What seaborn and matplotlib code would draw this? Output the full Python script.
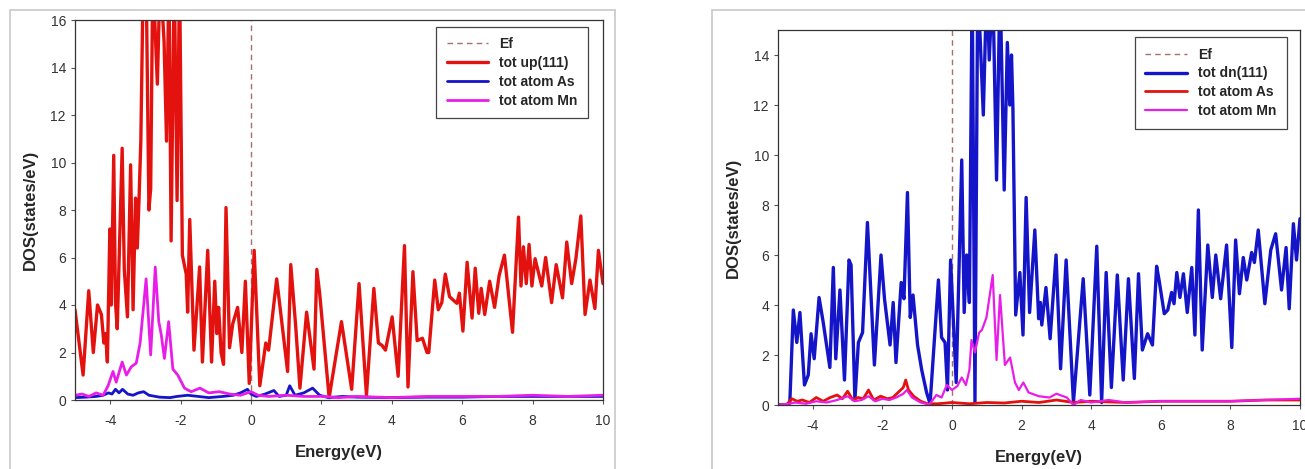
import matplotlib
matplotlib.use("Agg")
import matplotlib.pyplot as plt
import seaborn as sns
import pandas as pd
from matplotlib.patches import Rectangle

# spin up: total DOS (red)
up_tot_e = [-5.0, -4.77, -4.61, -4.48, -4.36, -4.25, -4.18, -4.13, -4.08, -4.01, -3.97, -3.90, -3.85, -3.80,
            -3.66, -3.60, -3.51, -3.42, -3.35, -3.28, -3.23, -3.18, -3.13, -3.06, -2.98, -2.90, -2.85, -2.79,
            -2.66, -2.58, -2.47, -2.40, -2.33, -2.27, -2.18, -2.10, -2.03, -1.95, -1.84, -1.80, -1.74, -1.62,
            -1.46, -1.38, -1.23, -1.12, -1.03, -0.97, -0.92, -0.85, -0.78, -0.71, -0.61, -0.52, -0.38, -0.26,
            -0.16, -0.05, 0.09, 0.25, 0.42, 0.50, 0.73, 1.04, 1.13, 1.27, 1.39, 1.58, 1.79, 1.87, 1.95, 2.22,
            2.57, 2.86, 3.07, 3.28, 3.49, 3.62, 3.72, 3.82, 4.01, 4.18, 4.36, 4.46, 4.60, 4.72, 4.87, 5.0,
            5.05, 5.22, 5.32, 5.42, 5.52, 5.64, 5.75, 5.85, 5.92, 6.02, 6.14, 6.28, 6.37, 6.47, 6.54, 6.64,
            6.78, 6.92, 7.05, 7.20, 7.43, 7.60, 7.67, 7.74, 7.82, 7.90, 7.98, 8.07, 8.26, 8.37, 8.54, 8.67,
            8.85, 8.97, 9.11, 9.23, 9.37, 9.49, 9.63, 9.77, 9.87, 10.0]
up_tot_d = [3.8, 1.05, 4.6, 2.0, 4.0, 3.6, 2.4, 2.8, 1.6, 7.2, 4.0, 10.3, 4.1, 3.0,
            10.6, 5.5, 3.5, 9.9, 3.8, 8.5, 6.4, 8.5, 10.9, 18, 18, 8.0, 8.9, 18,
            13.3, 18, 15.1, 10.9, 18, 6.7, 18, 8.4, 18, 6.1, 5.3, 3.7, 7.6, 2.1,
            5.6, 1.6, 6.3, 1.6, 5.0, 2.8, 3.9, 2.0, 1.5, 8.1, 2.2, 3.2, 3.9, 2.0,
            5.0, 0.7, 6.3, 0.6, 2.4, 2.1, 5.1, 1.2, 5.7, 3.1, 0.5, 3.7, 1.3, 5.5, 4.5, 0.1,
            3.3, 0.45, 4.9, 0.2, 4.7, 2.4, 2.3, 2.1, 3.5, 1.0, 6.5, 0.55, 5.4, 2.5, 2.6, 2.0,
            2.0, 5.05, 3.8, 4.1, 5.3, 4.35, 4.2, 4.07, 4.5, 2.9, 5.8, 3.45, 5.55, 3.65, 4.7, 3.6,
            5.0, 3.9, 5.25, 6.1, 2.85, 7.7, 4.8, 6.45, 4.9, 6.55, 4.8, 5.95, 4.8, 6.0, 4.1, 5.7,
            4.3, 6.65, 4.9, 5.95, 7.75, 3.6, 5.05, 3.85, 6.3, 4.9]

# spin up: As atom (blue)
up_as_e = [-5.0, -4.7, -4.4, -4.2, -4.05, -3.95, -3.85, -3.75, -3.65, -3.5, -3.35, -3.2, -3.05, -2.9,
           -2.6, -2.3, -2.1, -1.8, -1.5, -1.2, -0.8, -0.5, -0.3, -0.1, 0.0, 0.15, 0.4, 0.65, 0.8, 1.0,
           1.1, 1.25, 1.5, 1.75, 1.95, 2.2, 2.6, 3.0, 4.0, 5.0, 6.0, 7.0, 8.0, 9.0, 10.0]
up_as_d = [0.1, 0.12, 0.15, 0.2, 0.3, 0.25, 0.45, 0.3, 0.45, 0.25, 0.2, 0.3, 0.35, 0.2,
           0.12, 0.1, 0.15, 0.2, 0.15, 0.1, 0.15, 0.2, 0.3, 0.45, 0.25, 0.15, 0.25, 0.4, 0.15, 0.2,
           0.6, 0.2, 0.3, 0.5, 0.2, 0.1, 0.15, 0.12, 0.1, 0.12, 0.12, 0.15, 0.15, 0.15, 0.15]

# spin up: Mn atom (magenta)
up_mn_e = [-5.0, -4.8, -4.6, -4.4, -4.2, -4.06, -3.92, -3.83, -3.66, -3.54, -3.40, -3.26, -3.15, -2.98,
           -2.85, -2.72, -2.62, -2.55, -2.46, -2.34, -2.22, -2.08, -1.89, -1.7, -1.45, -1.2, -0.9, -0.6,
           -0.3, 0.0, 0.2, 0.5, 1.0, 1.5, 2.0, 2.5, 3.0, 4.0, 5.0, 6.0, 7.0, 8.0, 9.0, 10.0]
up_mn_d = [0.2, 0.25, 0.15, 0.3, 0.2, 0.6, 1.2, 0.75, 1.6, 1.05, 1.4, 1.55, 2.4, 5.1,
           1.9, 5.6, 3.3, 2.75, 1.75, 3.3, 1.3, 1.05, 0.5, 0.35, 0.5, 0.3, 0.35, 0.25,
           0.2, 0.35, 0.2, 0.15, 0.2, 0.15, 0.15, 0.1, 0.15, 0.1, 0.15, 0.15, 0.15, 0.2, 0.15, 0.2]

# spin down: total DOS (blue)
dn_tot_e = [-5.0, -4.70, -4.66, -4.56, -4.46, -4.37, -4.24, -4.13, -4.05, -3.96, -3.82, -3.70, -3.51, -3.41,
            -3.34, -3.22, -3.09, -2.96, -2.90, -2.79, -2.69, -2.57, -2.43, -2.23, -2.04, -1.94, -1.78, -1.69,
            -1.61, -1.46, -1.38, -1.28, -1.20, -1.12, -0.99, -0.87, -0.73, -0.63, -0.39, -0.30, -0.20, -0.13,
            -0.04, 0.12, 0.28, 0.35, 0.42, 0.50, 0.58, 0.66, 0.74, 0.90, 1.0, 1.07, 1.17, 1.28, 1.38, 1.50,
            1.59, 1.66, 1.71, 1.75, 1.83, 1.95, 2.04, 2.13, 2.23, 2.38, 2.49, 2.54, 2.58, 2.70, 2.82, 2.99,
            3.12, 3.28, 3.49, 3.77, 3.96, 4.16, 4.30, 4.43, 4.58, 4.75, 4.92, 5.07, 5.24, 5.36, 5.47, 5.62,
            5.76, 5.88, 5.95, 6.10, 6.20, 6.31, 6.38, 6.46, 6.55, 6.65, 6.76, 6.89, 6.98, 7.08, 7.19, 7.35,
            7.48, 7.58, 7.72, 7.89, 8.04, 8.15, 8.26, 8.37, 8.47, 8.61, 8.69, 8.80, 8.99, 9.16, 9.30, 9.47,
            9.60, 9.69, 9.81, 9.90, 10.0]
dn_tot_d = [0.0, 0.0, 0.1, 3.8, 2.5, 3.7, 0.8, 1.2, 2.85, 1.85, 4.3, 3.3, 1.5, 5.5,
            1.85, 4.6, 1.0, 5.8, 5.6, 0.2, 2.5, 2.9, 7.3, 1.6, 6.0, 4.25, 2.4, 4.1,
            1.7, 4.9, 4.25, 8.5, 3.5, 4.4, 2.4, 1.4, 0.5, 0.05, 5.0, 2.7, 2.5, 0.6,
            5.8, 0.9, 9.8, 3.7, 6.0, 4.1, 17, 0.1, 17, 11.6, 17, 13.8, 17, 9.0, 17, 8.6,
            14.5, 12.0, 14.0, 11.9, 3.6, 5.3, 2.8, 8.3, 3.7, 7.0, 3.45, 4.1, 3.2, 4.7, 2.65, 6.0,
            1.45, 5.8, 0.1, 5.05, 0.4, 6.35, 0.1, 5.3, 0.7, 5.2, 1.0, 5.05, 1.06, 5.25, 2.2, 2.85,
            2.4, 5.55, 5.0, 3.65, 3.8, 4.5, 4.05, 5.3, 4.3, 5.25, 3.7, 5.5, 2.8, 7.8, 2.2, 6.4,
            4.3, 6.0, 4.25, 6.4, 2.3, 6.6, 4.45, 5.9, 5.0, 6.1, 5.7, 7.0, 4.05, 6.2, 6.85, 4.6,
            6.3, 3.85, 7.25, 5.8, 7.45]

# spin down: As atom (red)
dn_as_e = [-5.0, -4.75, -4.6, -4.45, -4.3, -4.1, -3.9, -3.7, -3.5, -3.3, -3.15, -3.0, -2.85, -2.7,
           -2.55, -2.4, -2.25, -2.05, -1.85, -1.7, -1.55, -1.4, -1.33, -1.25, -1.1, -0.9, -0.7, -0.4,
           0.0, 0.5, 1.0, 1.5, 2.0, 2.5, 3.0, 3.5, 4.0, 5.0, 6.0, 7.0, 8.0, 9.0, 10.0]
dn_as_d = [0.0, 0.02, 0.25, 0.15, 0.2, 0.1, 0.3, 0.15, 0.3, 0.4, 0.25, 0.55, 0.2, 0.3,
           0.25, 0.6, 0.2, 0.35, 0.25, 0.3, 0.5, 0.7, 1.0, 0.6, 0.35, 0.15, 0.05, 0.05,
           0.1, 0.05, 0.1, 0.08, 0.15, 0.1, 0.2, 0.1, 0.15, 0.1, 0.15, 0.15, 0.15, 0.2, 0.2]

# spin down: Mn atom (magenta)
dn_mn_e = [-5.0, -4.7, -4.5, -4.2, -3.9, -3.6, -3.3, -3.0, -2.8, -2.6, -2.4, -2.2, -2.0, -1.8,
           -1.6, -1.4, -1.3, -1.15, -0.9, -0.65, -0.45, -0.3, -0.15, 0.0, 0.15, 0.28, 0.4, 0.5,
           0.56, 0.66, 0.78, 0.86, 0.99, 1.17, 1.28, 1.38, 1.52, 1.67, 1.81, 1.92, 2.05, 2.2, 2.5,
           2.8, 3.0, 3.3, 3.49, 3.7, 4.0, 4.5, 5.0, 6.0, 7.0, 8.0, 9.0, 10.0]
dn_mn_d = [0.0, 0.05, 0.1, 0.05, 0.15, 0.1, 0.2, 0.35, 0.15, 0.2, 0.35, 0.15, 0.25, 0.2,
           0.3, 0.45, 0.6, 0.3, 0.1, 0.02, 0.4, 0.3, 0.8, 0.6, 0.75, 1.1, 0.8, 1.4,
           2.6, 2.1, 2.9, 3.0, 3.5, 5.2, 1.8, 4.4, 1.6, 1.9, 0.9, 0.6, 0.9, 0.5, 0.35,
           0.3, 0.45, 0.3, 0.0, 0.2, 0.1, 0.2, 0.1, 0.15, 0.15, 0.15, 0.2, 0.25]

xticks = [-4, -2, 0, 2, 4, 6, 8, 10]

RED = "#e3120e"
BLUE = "#1414c8"
MAG = "#e81ee8"
EF = "#a87070"

sns.set_style("ticks")
plt.rcParams["font.family"] = ["Liberation Sans", "DejaVu Sans"]
plt.rcParams["axes.unicode_minus"] = False

fig = plt.figure(figsize=(13.05, 4.69), dpi=100)

# grey frames around each panel
fig.add_artist(Rectangle((10 / 1305, -0.01), 605 / 1305, 1 - 10 / 469 + 0.01,
                         transform=fig.transFigure, fill=False, ec="#c8c8c8", lw=1.2))
fig.add_artist(Rectangle((712 / 1305, -0.01), 600 / 1305, 1 - 10 / 469 + 0.01,
                         transform=fig.transFigure, fill=False, ec="#c8c8c8", lw=1.2))

ax1 = fig.add_axes([75 / 1305, 1 - 400 / 469, 528 / 1305, 380 / 469])
ax2 = fig.add_axes([778 / 1305, 1 - 405 / 469, 522 / 1305, 375 / 469])


def draw(ax, series, ymax, yticks, anchor):
    ax.axvline(0, ls=(0, (4, 3)), color=EF, lw=1.0, label="Ef")
    for e, d, c, lw, lab in series:
        df = pd.DataFrame({"E": e, "D": d})
        sns.lineplot(data=df, x="E", y="D", ax=ax, color=c, lw=lw, label=lab,
                     estimator=None, sort=False)
    ax.set_xlim(-5, 10)
    ax.set_ylim(0, ymax)
    ax.set_xticks(xticks)
    ax.set_yticks(yticks)
    ax.tick_params(direction="out", length=3, width=0.8, colors="#555555",
                   labelsize=10, labelcolor="#333333")
    ax.tick_params(axis="x", pad=7)
    for s in ax.spines.values():
        s.set_color("#333333")
        s.set_linewidth(0.9)
    ax.set_xlabel("Energy(eV)", fontsize=12, fontweight="bold", labelpad=12)
    ax.set_ylabel("DOS(states/eV)", fontsize=12, fontweight="bold", labelpad=9)
    leg = ax.legend(loc="upper right", bbox_to_anchor=anchor, borderaxespad=0,
                    fancybox=False, framealpha=1, edgecolor="#444444",
                    prop={"weight": "bold", "size": 10}, handlelength=3.0,
                    handletextpad=0.8, labelspacing=0.35, borderpad=0.75)
    leg.get_frame().set_linewidth(0.9)


draw(ax1, [(up_tot_e, up_tot_d, RED, 2.4, "tot up(111)"),
           (up_as_e, up_as_d, BLUE, 2.0, "tot atom As"),
           (up_mn_e, up_mn_d, MAG, 2.0, "tot atom Mn")],
     16, list(range(0, 17, 2)), (0.972, 0.982))

draw(ax2, [(dn_tot_e, dn_tot_d, BLUE, 2.4, "tot dn(111)"),
           (dn_as_e, dn_as_d, RED, 2.0, "tot atom As"),
           (dn_mn_e, dn_mn_d, MAG, 1.6, "tot atom Mn")],
     15, list(range(0, 15, 2)), (0.975, 0.981))

fig.savefig("out.png", dpi=100)
